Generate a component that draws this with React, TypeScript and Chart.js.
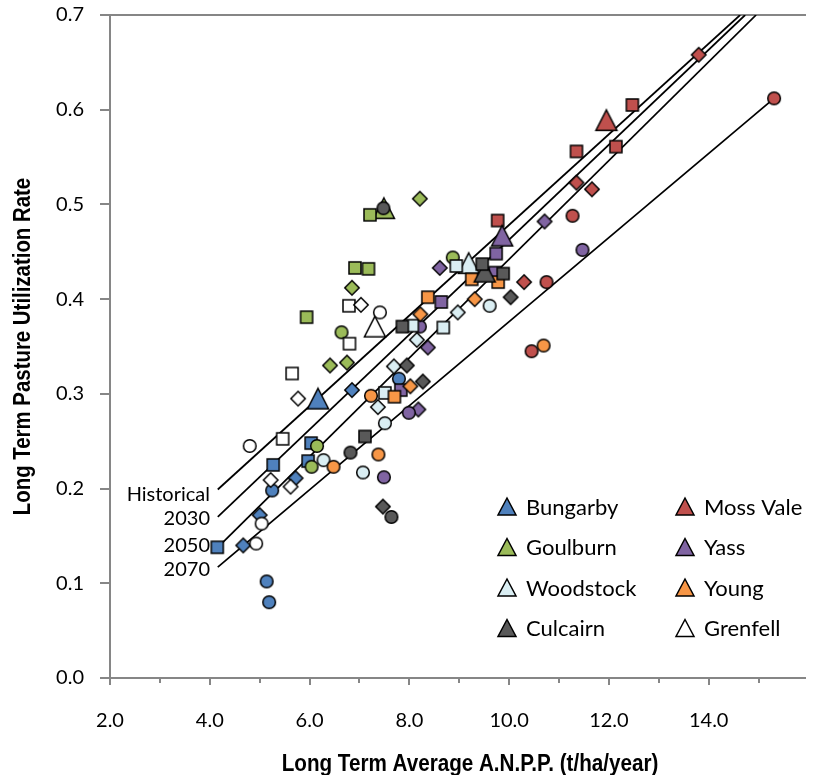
import { useEffect, useRef } from 'react';
import { Chart, registerables } from 'chart.js';

Chart.register(...registerables);

const siteNames = ['Bungarby', 'Moss Vale', 'Goulburn', 'Yass', 'Woodstock', 'Young', 'Culcairn', 'Grenfell'];
const siteColors = ['#4F81BD', '#C0504D', '#9BBB59', '#8064A2', '#DAEEF3', '#F79646', '#595959', '#FFFFFF'];

// [Long Term Average ANPP (t/ha/year), Long Term Pasture Utilization Rate], per site
const historicalPts: number[][][] = [
  [[6.17, 0.295]],
  [[11.95, 0.589]],
  [[7.49, 0.496]],
  [[9.86, 0.467]],
  [[9.19, 0.438]],
  [],
  [[9.51, 0.429]],
  [[7.31, 0.371]],
];
const pts2030: number[][][] = [
  [[4.15, 0.138], [5.27, 0.225], [6.03, 0.248], [5.97, 0.229]],
  [[12.47, 0.605], [11.35, 0.556], [12.14, 0.561], [9.77, 0.483]],
  [[7.21, 0.489], [6.91, 0.433], [7.18, 0.432], [5.94, 0.381]],
  [[9.74, 0.448], [9.72, 0.428], [8.64, 0.397], [7.83, 0.304]],
  [[8.94, 0.435], [8.06, 0.372], [8.68, 0.370], [7.51, 0.301]],
  [[9.25, 0.421], [9.78, 0.418], [8.37, 0.402], [7.70, 0.297]],
  [[9.46, 0.437], [9.88, 0.427], [7.86, 0.371], [7.11, 0.255]],
  [[6.79, 0.393], [6.80, 0.353], [5.65, 0.3215], [5.46, 0.2525]],
];
const pts2050: number[][][] = [
  [[4.67, 0.140], [5.00, 0.172], [5.72, 0.211], [6.85, 0.304]],
  [[13.80, 0.658], [11.35, 0.523], [11.66, 0.516], [10.30, 0.418]],
  [[8.21, 0.506], [6.85, 0.412], [6.41, 0.330], [6.75, 0.333]],
  [[10.71, 0.482], [8.61, 0.433], [8.37, 0.349], [8.18, 0.2835]],
  [[8.97, 0.386], [8.15, 0.357], [7.69, 0.329], [7.37, 0.286]],
  [[9.31, 0.400], [8.22, 0.384], [8.02, 0.308]],
  [[10.03, 0.402], [7.95, 0.330], [8.27, 0.313], [7.47, 0.181]],
  [[7.03, 0.394], [5.77, 0.295], [5.22, 0.209], [5.62, 0.202]],
];
const pts2070: number[][][] = [
  [[5.14, 0.102], [5.19, 0.080], [5.25, 0.198], [7.79, 0.316]],
  [[15.31, 0.612], [11.27, 0.488], [10.75, 0.418], [10.45, 0.345]],
  [[8.87, 0.444], [6.64, 0.365], [6.15, 0.245], [6.04, 0.223]],
  [[11.47, 0.452], [8.21, 0.371], [7.99, 0.280], [7.49, 0.212]],
  [[9.61, 0.393], [7.51, 0.269], [6.28, 0.230], [7.07, 0.217]],
  [[10.69, 0.351], [7.23, 0.298], [7.38, 0.236], [6.48, 0.223]],
  [[7.48, 0.496], [6.82, 0.238], [7.64, 0.170]],
  [[7.41, 0.386], [4.80, 0.245], [5.04, 0.163], [4.93, 0.142]],
];

// regression lines (start / end)
const lineNames = ['Historical', '2030', '2050', '2070'];
const historicalLine = [[4.16, 0.199], [14.63, 0.70]];
const line2030 = [[4.16, 0.170], [14.73, 0.70]];
const line2050 = [[4.16, 0.138], [14.95, 0.70]];
const line2070 = [[4.16, 0.117], [15.31, 0.612]];

const xTitle = 'Long Term Average A.N.P.P. (t/ha/year)';
const yTitle = 'Long Term Pasture Utilization Rate';

type Shape = 'triangle' | 'square' | 'diamond' | 'circle';

function makeMarker(shape: Shape, fill: string): HTMLCanvasElement {
  const c = document.createElement('canvas');
  const size = shape === 'triangle' ? 26 : 18;
  c.width = size;
  c.height = size;
  const g = c.getContext('2d')!;
  const m = size / 2;
  g.fillStyle = fill;
  g.strokeStyle = '#000';
  g.lineWidth = 1.5;
  g.beginPath();
  if (shape === 'square') {
    g.rect(m - 6, m - 6, 12, 12);
  } else if (shape === 'diamond') {
    g.moveTo(m, m - 7.2);
    g.lineTo(m + 7.2, m);
    g.lineTo(m, m + 7.2);
    g.lineTo(m - 7.2, m);
    g.closePath();
  } else if (shape === 'circle') {
    g.arc(m, m, 6.3, 0, Math.PI * 2);
  } else {
    const w = 21;
    const h = 20.5;
    g.moveTo(m, m - h / 2);
    g.lineTo(m + w / 2, m + h / 2);
    g.lineTo(m - w / 2, m + h / 2);
    g.closePath();
  }
  g.fill();
  g.stroke();
  return c;
}

const titleFont = "bold 24px 'Liberation Sans', Arial, sans-serif";

const decorPlugin = {
  id: 'decor',
  beforeDatasetsDraw(chart: any) {
    const { ctx, chartArea: a, scales } = chart;
    const x = scales.x;
    const y = scales.y;
    ctx.save();
    ctx.strokeStyle = '#868686';
    ctx.lineWidth = 2;
    ctx.beginPath();
    ctx.moveTo(a.left, a.top);
    ctx.lineTo(a.left, a.bottom);
    ctx.moveTo(a.left - 10, a.bottom);
    ctx.lineTo(a.right, a.bottom);
    ctx.moveTo(a.left - 10, a.top);
    ctx.lineTo(a.right, a.top);
    y.ticks.forEach((t: any) => {
      const py = Math.round(y.getPixelForValue(t.value));
      ctx.moveTo(a.left - 10, py);
      ctx.lineTo(a.left, py);
    });
    x.ticks.forEach((t: any) => {
      if (Math.abs(t.value - Math.round(t.value)) > 1e-6) return;
      const px = Math.round(x.getPixelForValue(t.value));
      const len = Math.round(t.value) % 2 === 0 ? 7 : 5;
      ctx.moveTo(px, a.bottom);
      ctx.lineTo(px, a.bottom + len);
    });
    ctx.stroke();
    ctx.restore();
  },
  afterDraw(chart: any) {
    const { ctx, chartArea: a } = chart;
    ctx.save();
    ctx.fillStyle = '#000';
    // axis titles (narrow bold)
    ctx.font = titleFont;
    ctx.textAlign = 'center';
    ctx.textBaseline = 'alphabetic';
    ctx.save();
    ctx.translate(470, 771);
    ctx.scale(0.86, 1);
    ctx.fillText(xTitle, 0, 0);
    ctx.restore();
    ctx.save();
    ctx.translate(30, (a.top + a.bottom) / 2);
    ctx.rotate(-Math.PI / 2);
    ctx.scale(0.85, 1);
    ctx.fillText(yTitle, 0, 0);
    ctx.restore();
    // line labels
    ctx.font = '20px Lato';
    ctx.textAlign = 'right';
    const labelBase = [501, 525, 552, 576];
    lineNames.forEach((n, i) => ctx.fillText(n, 210, labelBase[i]));
    // legend
    const cols = [507, 685];
    const rows = [506.5, 547, 587.5, 628];
    ctx.font = '22px Lato';
    ctx.textAlign = 'left';
    ctx.textBaseline = 'middle';
    siteNames.forEach((n, i) => {
      const cx = cols[i % 2];
      const cy = rows[Math.floor(i / 2)];
      ctx.beginPath();
      ctx.moveTo(cx, cy - 8.5);
      ctx.lineTo(cx + 9, cy + 8.5);
      ctx.lineTo(cx - 9, cy + 8.5);
      ctx.closePath();
      ctx.fillStyle = siteColors[i];
      ctx.strokeStyle = '#000';
      ctx.lineWidth = 1.5;
      ctx.fill();
      ctx.stroke();
      ctx.fillStyle = '#000';
      ctx.fillText(n, cx + 19, cy + 1);
    });
    ctx.restore();
  },
};

export default function App() {
  const ref = useRef<HTMLCanvasElement>(null);
  useEffect(() => {
    if (!ref.current) return;
    const shapeNames: Shape[] = ['triangle', 'square', 'diamond', 'circle'];
    const siteDatasets = siteNames.map((name, si) => {
      const groups = [historicalPts[si], pts2030[si], pts2050[si], pts2070[si]];
      const data: { x: number; y: number }[] = [];
      const styles: HTMLCanvasElement[] = [];
      groups.forEach((g, gi) => {
        const marker = makeMarker(shapeNames[gi], siteColors[si]);
        g.forEach(([px, py]) => {
          data.push({ x: px, y: py });
          styles.push(marker);
        });
      });
      return {
        label: name,
        data,
        showLine: false,
        pointStyle: styles,
        pointRadius: 7,
        order: siteNames.length - si,
      };
    });
    const lines = [historicalLine, line2030, line2050, line2070].map((l, i) => ({
      label: lineNames[i],
      data: l.map(([px, py]) => ({ x: px, y: py })),
      showLine: true,
      pointRadius: 0,
      borderColor: '#000',
      borderWidth: 1.75,
      order: 50,
    }));
    const chart = new Chart(ref.current, {
      type: 'scatter',
      data: { datasets: [...siteDatasets, ...lines] as any },
      plugins: [decorPlugin],
      options: {
        responsive: false,
        animation: false,
        devicePixelRatio: 1,
        events: [],
        layout: { padding: { top: 15, right: 18, left: 0, bottom: 0 } },
        plugins: { legend: { display: false }, tooltip: { enabled: false } },
        scales: {
          x: {
            type: 'linear',
            min: 2,
            max: 15.95,
            afterFit: (s: any) => { s.height = 97; s.paddingLeft = 0; s.paddingRight = 0; },
            grid: { display: false, drawTicks: false },
            border: { display: false },
            ticks: {
              stepSize: 1,
              includeBounds: false,
              autoSkip: false,
              maxRotation: 0,
              padding: 31,
              color: '#000',
              font: { family: 'Lato', size: 20 },
              callback: (v: any) => (Math.abs(v % 2) < 1e-6 ? Number(v).toFixed(1) : ''),
            },
          },
          y: {
            type: 'linear',
            min: 0,
            max: 0.7,
            afterFit: (s: any) => { s.width = 110; s.paddingTop = 0; s.paddingBottom = 0; },
            grid: { display: false, drawTicks: false },
            border: { display: false },
            ticks: {
              stepSize: 0.1,
              padding: 26,
              color: '#000',
              font: { family: 'Lato', size: 20 },
              callback: (v: any) => Number(v).toFixed(1),
            },
          },
        },
      } as any,
    });
    return () => chart.destroy();
  }, []);
  return (
    <div style={{ position: 'absolute', left: 0, top: 0, width: 824, height: 775, overflow: 'hidden', background: '#fff' }}>
      <canvas ref={ref} width={824} height={775} style={{ display: 'block' }} />
    </div>
  );
}
